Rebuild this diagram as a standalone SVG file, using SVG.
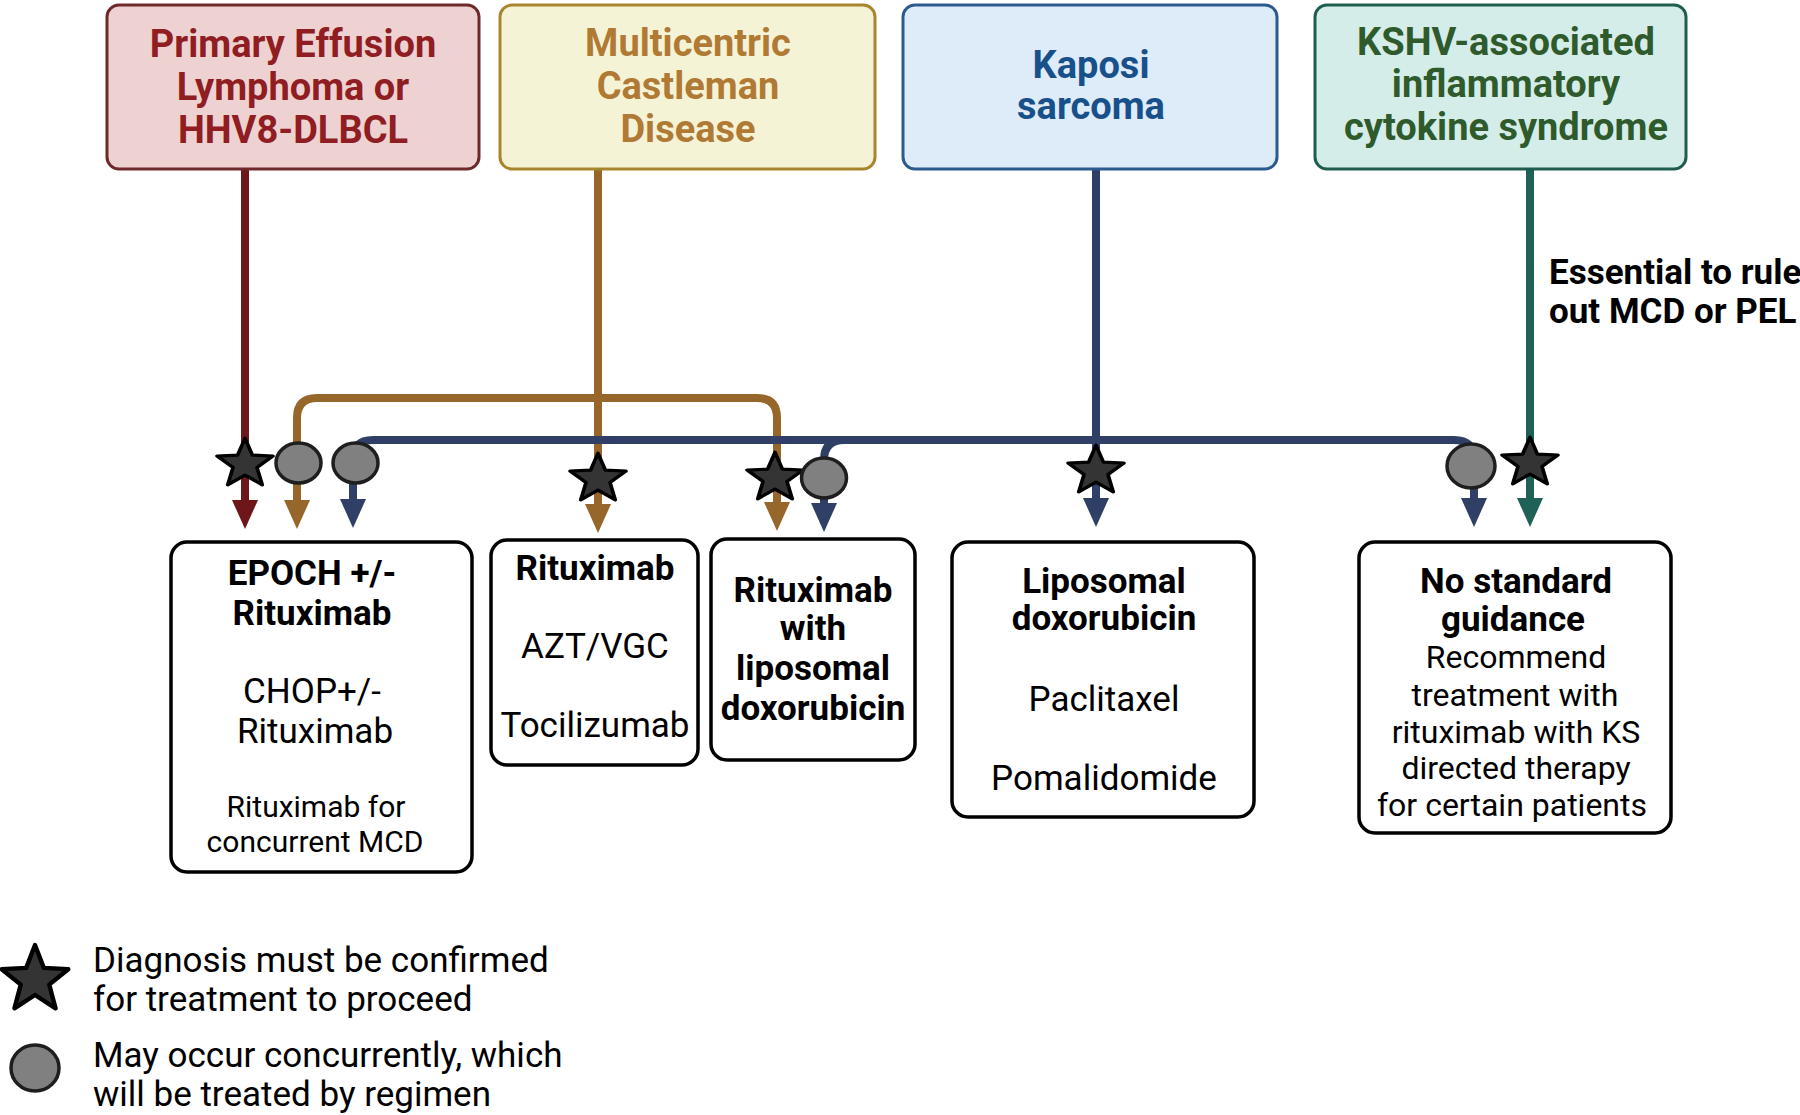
<svg xmlns="http://www.w3.org/2000/svg" width="1800" height="1115" viewBox="0 0 1800 1115">
<style>
text{font-family:Roboto,"Liberation Sans",sans-serif;text-anchor:middle;}
.tb{font-weight:700;font-size:38px;}
.bb{font-weight:700;font-size:35px;fill:#000;}
.br{font-weight:400;font-size:35px;fill:#000;}
.bs{font-weight:400;font-size:30px;fill:#000;}
.box{fill:#fff;stroke:#000;stroke-width:3.5;}
.ln{fill:none;stroke-width:8;}
.star{fill:#343434;stroke:#000;stroke-width:3.5;stroke-linejoin:round;}
.dot{fill:#808080;stroke:#1e1e1e;stroke-width:3.5;}
.leg{font-weight:400;font-size:35px;fill:#000;text-anchor:start;}
</style>
<defs>
<path id="st" d="M0,-28 L7.05,-9.71 L26.63,-8.65 L11.41,3.71 L16.46,22.65 L0,12 L-16.46,22.65 L-11.41,3.71 L-26.63,-8.65 L-7.05,-9.71 Z"/>
<marker id="aR" markerUnits="userSpaceOnUse" viewBox="0 0 29 26" refX="0" refY="13" markerWidth="29" markerHeight="26" orient="auto-start-reverse"><path d="M0,0 L29,13 L0,26 Z" fill="#6e171b"/></marker>
<marker id="aG" markerUnits="userSpaceOnUse" viewBox="0 0 29 26" refX="0" refY="13" markerWidth="29" markerHeight="26" orient="auto-start-reverse"><path d="M0,0 L29,13 L0,26 Z" fill="#97662a"/></marker>
<marker id="aB" markerUnits="userSpaceOnUse" viewBox="0 0 29 26" refX="0" refY="13" markerWidth="29" markerHeight="26" orient="auto-start-reverse"><path d="M0,0 L29,13 L0,26 Z" fill="#303f66"/></marker>
<marker id="aT" markerUnits="userSpaceOnUse" viewBox="0 0 29 26" refX="0" refY="13" markerWidth="29" markerHeight="26" orient="auto-start-reverse"><path d="M0,0 L29,13 L0,26 Z" fill="#1f6157"/></marker>
</defs>
<rect width="1800" height="1115" fill="#fff"/>

<g id="connectors">
<path class="ln" stroke="#6e171b" d="M245,169 V500" marker-end="url(#aR)"/>
<path class="ln" stroke="#97662a" d="M297,500 V418 Q297,398 317,398 H757 Q777,398 777,418 V502" marker-start="url(#aG)" marker-end="url(#aG)"/>
<path class="ln" stroke="#97662a" d="M598,169 V504" marker-end="url(#aG)"/>
<path class="ln" stroke="#303f66" d="M353,499 V460 Q353,440 373,440 H1454 Q1474,440 1474,460 V498" marker-start="url(#aB)" marker-end="url(#aB)"/>
<path class="ln" stroke="#303f66" d="M844,440 Q824,440 824,460 V503" marker-end="url(#aB)"/>
<path class="ln" stroke="#303f66" d="M1096,169 V498" marker-end="url(#aB)"/>
<path class="ln" stroke="#1f6157" d="M1530,169 V498" marker-end="url(#aT)"/>
</g>

<g id="markers">
<use href="#st" class="star" transform="translate(245,464) scale(1.05,0.92)"/>
<ellipse class="dot" cx="298.5" cy="463" rx="22.5" ry="20"/>
<ellipse class="dot" cx="355.5" cy="463" rx="22.5" ry="20"/>
<use href="#st" class="star" transform="translate(598,479) scale(1.05,0.92)"/>
<use href="#st" class="star" transform="translate(775,478) scale(1.05,0.92)"/>
<ellipse class="dot" cx="824" cy="478" rx="22.5" ry="20"/>
<use href="#st" class="star" transform="translate(1096,471) scale(1.05,0.92)"/>
<ellipse class="dot" cx="1471" cy="466" rx="24" ry="22"/>
<use href="#st" class="star" transform="translate(1530,463) scale(1.05,0.92)"/>
</g>

<g id="pel">
<rect x="107" y="5" width="372" height="164" rx="12" fill="#eed2d2" stroke="#6e2a2a" stroke-width="3"/>
<text class="tb" fill="#8f1d22"><tspan x="293" y="57">Primary Effusion</tspan><tspan x="293" y="100">Lymphoma or</tspan><tspan x="293" y="143">HHV8-DLBCL</tspan></text>
</g>
<g id="mcd">
<rect x="500" y="5" width="375" height="164" rx="12" fill="#f5f3d6" stroke="#a8852c" stroke-width="3"/>
<text class="tb" fill="#b07a35"><tspan x="688" y="56">Multicentric</tspan><tspan x="688" y="99">Castleman</tspan><tspan x="688" y="142">Disease</tspan></text>
</g>
<g id="ks">
<rect x="903" y="5" width="374" height="164" rx="12" fill="#deebf8" stroke="#2d5a8e" stroke-width="3"/>
<text class="tb" fill="#17508a"><tspan x="1091" y="78">Kaposi</tspan><tspan x="1091" y="119">sarcoma</tspan></text>
</g>
<g id="kics">
<rect x="1315" y="5" width="371" height="164" rx="12" fill="#d5ede8" stroke="#1f5e4e" stroke-width="3"/>
<text class="tb" fill="#2e5a2c"><tspan x="1506" y="55">KSHV-associated</tspan><tspan x="1506" y="97">inflammatory</tspan><tspan x="1506" y="140">cytokine syndrome</tspan></text>
</g>
<g id="note">
<text style="font-weight:700;font-size:35px;text-anchor:start" fill="#000"><tspan x="1549" y="284">Essential to rule</tspan><tspan x="1549" y="323">out MCD or PEL</tspan></text>
</g>

<g id="epoch">
<rect class="box" x="171" y="542" width="301" height="330" rx="16"/>
<text class="bb"><tspan x="312" y="585">EPOCH +/-</tspan><tspan x="312" y="625">Rituximab</tspan></text>
<text class="br"><tspan x="312" y="703">CHOP+/-</tspan><tspan x="315" y="743">Rituximab</tspan></text>
<text class="bs"><tspan x="316" y="817">Rituximab for</tspan><tspan x="315" y="852">concurrent MCD</tspan></text>
</g>
<g id="ritux">
<rect class="box" x="491" y="540" width="207" height="225" rx="16"/>
<text class="bb" x="595" y="580">Rituximab</text>
<text class="br"><tspan x="595" y="658">AZT/VGC</tspan><tspan x="595" y="737">Tocilizumab</tspan></text>
</g>
<g id="rituxlipo">
<rect class="box" x="711" y="539" width="204" height="221" rx="16"/>
<text class="bb"><tspan x="813" y="602">Rituximab</tspan><tspan x="813" y="640">with</tspan><tspan x="813" y="680">liposomal</tspan><tspan x="813" y="720">doxorubicin</tspan></text>
</g>
<g id="lipo">
<rect class="box" x="952" y="542" width="302" height="275" rx="16"/>
<text class="bb"><tspan x="1104" y="593">Liposomal</tspan><tspan x="1104" y="630">doxorubicin</tspan></text>
<text class="br"><tspan x="1104" y="711">Paclitaxel</tspan><tspan x="1104" y="790">Pomalidomide</tspan></text>
</g>
<g id="nostd">
<rect class="box" x="1359" y="542" width="312" height="291" rx="16"/>
<text class="bb"><tspan x="1516" y="593">No standard</tspan><tspan x="1513" y="631">guidance</tspan></text>
<text class="br" style="font-size:32px"><tspan x="1516" y="668">Recommend</tspan><tspan x="1515" y="706">treatment with</tspan><tspan x="1516" y="743">rituximab with KS</tspan><tspan x="1516" y="779">directed therapy</tspan><tspan x="1512" y="816">for certain patients</tspan></text>
</g>

<g id="legend">
<use href="#st" class="star" transform="translate(35,980) scale(1.25)"/>
<ellipse class="dot" cx="35" cy="1068" rx="24" ry="23"/>
<text class="leg"><tspan x="93" y="972">Diagnosis must be confirmed</tspan><tspan x="93" y="1011">for treatment to proceed</tspan></text>
<text class="leg"><tspan x="93" y="1067">May occur concurrently, which</tspan><tspan x="93" y="1106">will be treated by regimen</tspan></text>
</g>
</svg>
